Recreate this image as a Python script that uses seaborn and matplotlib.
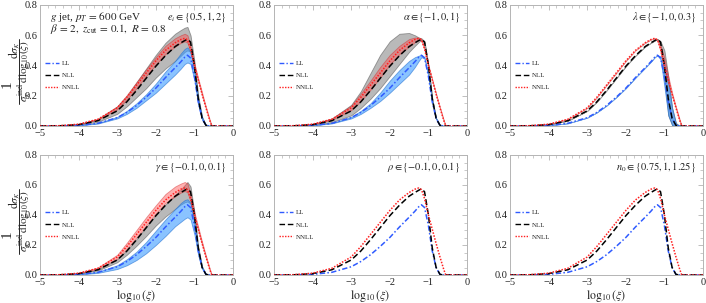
import matplotlib
matplotlib.use("Agg")
import matplotlib.pyplot as plt
from matplotlib.lines import Line2D
from matplotlib.ticker import MultipleLocator
import pandas as pd
import numpy as np
import seaborn as sns

# x grid, log10(xi)
x_grid = [-5.0, -4.5, -4.0, -3.5, -3.0, -2.75, -2.5, -2.25, -2.0, -1.75, -1.5, -1.35,
          -1.25, -1.18, -1.1, -1.0, -0.9, -0.8, -0.7, -0.6, -0.55, -0.4, 0.0]

# central curves
ll = [0, 0.001, 0.004, 0.018, 0.055, 0.09, 0.135, 0.19, 0.25, 0.32, 0.385, 0.425,
      0.455, 0.468, 0.45, 0.33, 0.16, 0.05, 0.004, 0, 0, 0, 0]
nll = [0, 0.001, 0.009, 0.035, 0.10, 0.16, 0.235, 0.315, 0.395, 0.465, 0.525, 0.55,
       0.565, 0.575, 0.555, 0.40, 0.18, 0.05, 0.004, 0, 0, 0, 0]
nnll = [0, 0.002, 0.012, 0.045, 0.12, 0.19, 0.27, 0.35, 0.43, 0.50, 0.55, 0.572,
        0.58, 0.57, 0.51, 0.40, 0.305, 0.21, 0.12, 0.035, 0, 0, 0]

# e_i variation bands
ei_ll_lo = [0, 0.001, 0.004, 0.016, 0.05, 0.08, 0.12, 0.17, 0.22, 0.28, 0.34, 0.38,
            0.41, 0.42, 0.41, 0.30, 0.14, 0.04, 0.003, 0, 0, 0, 0]
ei_ll_hi = [0, 0.001, 0.005, 0.02, 0.06, 0.1, 0.15, 0.21, 0.28, 0.36, 0.43, 0.48,
            0.51, 0.52, 0.49, 0.36, 0.18, 0.06, 0.005, 0, 0, 0, 0]
ei_nll_lo = [0, 0.001, 0.007, 0.028, 0.08, 0.13, 0.19, 0.25, 0.32, 0.38, 0.43, 0.465,
             0.49, 0.5, 0.49, 0.37, 0.16, 0.045, 0.003, 0, 0, 0, 0]
ei_nll_hi = [0, 0.002, 0.012, 0.045, 0.13, 0.2, 0.29, 0.38, 0.47, 0.55, 0.61, 0.635,
             0.65, 0.655, 0.6, 0.43, 0.2, 0.06, 0.006, 0, 0, 0, 0]
ei_nnll_lo = [0, 0.002, 0.011, 0.042, 0.11, 0.175, 0.25, 0.33, 0.405, 0.475, 0.525, 0.55,
              0.56, 0.55, 0.49, 0.385, 0.295, 0.2, 0.115, 0.03, 0, 0, 0]
ei_nnll_hi = [0, 0.002, 0.013, 0.048, 0.13, 0.205, 0.29, 0.375, 0.455, 0.53, 0.58, 0.6,
              0.61, 0.6, 0.53, 0.415, 0.315, 0.22, 0.125, 0.04, 0.002, 0, 0]

# alpha variation bands
al_ll_lo = [0, 0.001, 0.004, 0.017, 0.05, 0.08, 0.12, 0.165, 0.22, 0.28, 0.34, 0.39,
            0.43, 0.455, 0.445, 0.325, 0.155, 0.048, 0.004, 0, 0, 0, 0]
al_ll_hi = [0, 0.001, 0.005, 0.02, 0.06, 0.1, 0.15, 0.22, 0.30, 0.37, 0.43, 0.455,
            0.465, 0.47, 0.455, 0.335, 0.165, 0.052, 0.005, 0, 0, 0, 0]
al_nll_lo = [0, 0.001, 0.007, 0.025, 0.07, 0.12, 0.18, 0.25, 0.33, 0.41, 0.49, 0.53,
             0.555, 0.57, 0.55, 0.395, 0.178, 0.05, 0.004, 0, 0, 0, 0]
al_nll_hi = [0, 0.002, 0.013, 0.05, 0.14, 0.23, 0.35, 0.47, 0.56, 0.61, 0.615, 0.6,
             0.585, 0.58, 0.56, 0.405, 0.182, 0.05, 0.004, 0, 0, 0, 0]
al_nnll_lo = [0, 0.002, 0.011, 0.04, 0.105, 0.165, 0.24, 0.32, 0.405, 0.475, 0.525, 0.555,
              0.57, 0.565, 0.505, 0.397, 0.303, 0.208, 0.118, 0.034, 0, 0, 0]
al_nnll_hi = [0, 0.002, 0.013, 0.05, 0.135, 0.215, 0.30, 0.39, 0.47, 0.53, 0.575, 0.585,
              0.585, 0.575, 0.515, 0.403, 0.307, 0.212, 0.122, 0.036, 0.001, 0, 0]

# lambda variation bands (only visible at the endpoint)
la_ll_lo = [0, 0.001, 0.004, 0.018, 0.055, 0.09, 0.135, 0.19, 0.25, 0.32, 0.385, 0.425,
            0.455, 0.468, 0.44, 0.26, 0.07, 0.005, 0, 0, 0, 0, 0]
la_ll_hi = [0, 0.001, 0.004, 0.018, 0.055, 0.09, 0.135, 0.19, 0.25, 0.32, 0.385, 0.425,
            0.455, 0.468, 0.46, 0.42, 0.30, 0.12, 0.015, 0, 0, 0, 0]
la_nll_lo = [0, 0.001, 0.009, 0.035, 0.10, 0.16, 0.235, 0.315, 0.395, 0.465, 0.525, 0.55,
             0.565, 0.575, 0.54, 0.30, 0.07, 0.005, 0, 0, 0, 0, 0]
la_nll_hi = [0, 0.001, 0.009, 0.035, 0.10, 0.16, 0.235, 0.315, 0.395, 0.465, 0.525, 0.55,
             0.565, 0.575, 0.56, 0.50, 0.33, 0.12, 0.02, 0, 0, 0, 0]
la_nnll_lo = [0, 0.002, 0.012, 0.045, 0.12, 0.19, 0.27, 0.35, 0.43, 0.50, 0.55, 0.572,
              0.58, 0.57, 0.49, 0.37, 0.28, 0.2, 0.115, 0.03, 0, 0, 0]
la_nnll_hi = [0, 0.002, 0.012, 0.045, 0.12, 0.19, 0.27, 0.35, 0.43, 0.50, 0.55, 0.572,
              0.58, 0.57, 0.53, 0.45, 0.33, 0.22, 0.125, 0.04, 0, 0, 0]

# gamma variation bands
ga_ll_lo = [0, 0.001, 0.003, 0.014, 0.04, 0.065, 0.10, 0.145, 0.2, 0.26, 0.325, 0.355,
            0.375, 0.385, 0.37, 0.27, 0.13, 0.04, 0.003, 0, 0, 0, 0]
ga_ll_hi = [0, 0.001, 0.005, 0.021, 0.065, 0.105, 0.155, 0.22, 0.295, 0.37, 0.44, 0.48,
            0.5, 0.505, 0.48, 0.35, 0.17, 0.055, 0.005, 0, 0, 0, 0]
ga_nll_lo = [0, 0.001, 0.008, 0.03, 0.085, 0.135, 0.195, 0.26, 0.33, 0.39, 0.44, 0.47,
             0.485, 0.49, 0.475, 0.35, 0.16, 0.045, 0.003, 0, 0, 0, 0]
ga_nll_hi = [0, 0.001, 0.01, 0.037, 0.105, 0.165, 0.24, 0.32, 0.40, 0.47, 0.535, 0.57,
             0.6, 0.62, 0.59, 0.42, 0.19, 0.055, 0.005, 0, 0, 0, 0]
ga_nnll_lo = [0, 0.002, 0.011, 0.042, 0.11, 0.175, 0.25, 0.33, 0.41, 0.48, 0.525, 0.55,
              0.56, 0.55, 0.49, 0.385, 0.295, 0.2, 0.115, 0.03, 0, 0, 0]
ga_nnll_hi = [0, 0.002, 0.014, 0.05, 0.135, 0.215, 0.30, 0.385, 0.465, 0.54, 0.59, 0.61,
              0.62, 0.61, 0.54, 0.42, 0.32, 0.22, 0.128, 0.04, 0.002, 0, 0]

orders = ["LL", "NLL", "NNLL"]
panel_labels = [r"$e_i \in \{0.5, 1, 2\}$", r"$\alpha \in \{-1, 0, 1\}$",
                r"$\lambda \in \{-1, 0, 0.3\}$", r"$\gamma \in \{-0.1, 0, 0.1\}$",
                r"$\rho \in \{-0.1, 0, 0.1\}$", r"$n_0 \in \{0.75, 1, 1.25\}$"]
panel_bands = [
    [(ei_ll_lo, ei_ll_hi), (ei_nll_lo, ei_nll_hi), (ei_nnll_lo, ei_nnll_hi)],
    [(al_ll_lo, al_ll_hi), (al_nll_lo, al_nll_hi), (al_nnll_lo, al_nnll_hi)],
    [(la_ll_lo, la_ll_hi), (la_nll_lo, la_nll_hi), (la_nnll_lo, la_nnll_hi)],
    [(ga_ll_lo, ga_ll_hi), (ga_nll_lo, ga_nll_hi), (ga_nnll_lo, ga_nnll_hi)],
    None,
    None,
]

line_colors = {"LL": "#2f5bff", "NLL": "black", "NNLL": "#ff2020"}
line_dashes = {"LL": (3.5, 1.5, 1, 1.5), "NLL": (4, 2), "NNLL": (1, 1)}
band_face = {"LL": "#3d9bff", "NLL": "#808080", "NNLL": "#ff5050"}
band_edge = {"LL": "#1f6fd0", "NLL": "#505050", "NNLL": "#d02020"}
band_alpha = {"LL": 0.6, "NLL": 0.55, "NNLL": 0.45}

df = pd.DataFrame({
    "x": x_grid * 3,
    "y": ll + nll + nnll,
    "order": ["LL"] * len(x_grid) + ["NLL"] * len(x_grid) + ["NNLL"] * len(x_grid),
})

sns.set_style("white")
plt.rcParams["font.family"] = ["Liberation Serif", "DejaVu Serif"]
plt.rcParams["mathtext.fontset"] = "stix"
plt.rcParams["axes.unicode_minus"] = True

fig = plt.figure(figsize=(7.06, 3.03), dpi=100)
W, H = 706.0, 303.0
lefts = [40, 274, 510]
rows = [(5, 126), (155, 275)]
frame = "#b4b4b4"

for i in range(6):
    r, c = divmod(i, 3)
    top, bot = rows[r]
    ax = fig.add_axes([lefts[c] / W, 1 - bot / H, 193 / W, (bot - top) / H])

    bands = panel_bands[i]
    if bands is not None:
        # gray first, then blue, then red
        for k in [1, 0, 2]:
            name = orders[k]
            lo, hi = bands[k]
            ax.fill_between(x_grid, lo, hi, facecolor=band_face[name],
                            alpha=band_alpha[name], edgecolor=band_edge[name],
                            linewidth=0.6, zorder=1)

    sns.lineplot(data=df, x="x", y="y", hue="order", style="order",
                 palette=line_colors, dashes=line_dashes, sort=False,
                 estimator=None, linewidth=1.1, legend=False, ax=ax, zorder=3)

    ax.set_xlim(-5, 0)
    ax.set_ylim(0, 0.8)
    ax.set_xticks([-5, -4, -3, -2, -1, 0])
    ax.set_yticks([0.0, 0.2, 0.4, 0.6, 0.8])
    ax.set_yticklabels(["0.0", "0.2", "0.4", "0.6", "0.8"])
    ax.xaxis.set_minor_locator(MultipleLocator(0.2))
    ax.yaxis.set_minor_locator(MultipleLocator(0.05))
    ax.tick_params(which="both", direction="in", top=True, right=True,
                   color=frame, labelsize=7.5, pad=2, labelcolor="#222222")
    ax.tick_params(which="major", length=3.5, width=0.6)
    ax.tick_params(which="minor", length=2, width=0.5)
    for s in ax.spines.values():
        s.set_color(frame)
        s.set_linewidth(0.7)
    ax.set_xlabel("")
    ax.set_ylabel("")

    ax.text(0.965, 0.9, panel_labels[i], transform=ax.transAxes, ha="right",
            va="center", fontsize=7.5, color="#222222")

    handles = [Line2D([0], [0], color=line_colors[o], lw=1.0,
                      dashes=line_dashes[o]) for o in orders]
    ax.legend(handles, orders, loc="center left", bbox_to_anchor=(0.0, 0.42),
              frameon=False, fontsize=5, handlelength=2.0, handletextpad=0.4,
              labelspacing=0.9, borderaxespad=0.3)

    if r == 1:
        ax.set_xlabel(r"$\log_{10}(\xi)$", fontsize=8.5, labelpad=1)

    if c == 0:
        # y label: "1" and a stacked fraction built from separate pieces
        fig.text(7.5 / W, 1 - (top + 79) / H, "1", rotation=90, ha="center",
                 va="center", fontsize=11)
        fig.text(14 / W, 1 - (top + 45) / H, r"$\mathrm{d}\sigma_\kappa$",
                 rotation=90, ha="center", va="center", fontsize=8.5)
        fig.add_artist(Line2D([19 / W, 19 / W], [1 - (top + 34) / H, 1 - (top + 99) / H],
                              transform=fig.transFigure, color="black", lw=0.6))
        fig.text(24 / W, 1 - (top + 66) / H,
                 r"$\sigma_\kappa^{\mathrm{incl}}\,\mathrm{dlog}_{10}(\xi)$",
                 rotation=90, ha="center", va="center", fontsize=8)

    if i == 0:
        ax.text(0.05, 0.9, r"$g$ jet, $p_T\,=\,600$ GeV", transform=ax.transAxes,
                ha="left", va="center", fontsize=8, color="#222222")
        ax.text(0.05, 0.8, r"$\beta\,=\,2,\ z_{\mathrm{cut}}\,=\,0.1,\ R\,=\,0.8$",
                transform=ax.transAxes, ha="left", va="center", fontsize=8,
                color="#222222")

fig.savefig("out.png", dpi=100)
